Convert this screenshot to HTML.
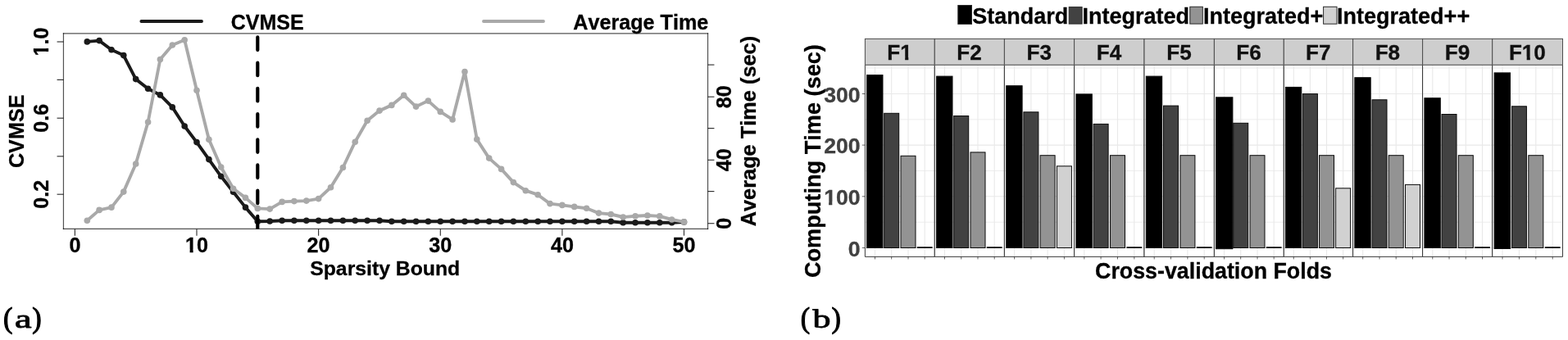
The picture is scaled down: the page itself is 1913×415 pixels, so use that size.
<!DOCTYPE html>
<html lang="en">
<head>
<meta charset="utf-8">
<title>Figure</title>
<style>html,body{margin:0;padding:0;background:#fff;}body{width:1913px;height:415px;overflow:hidden;}text{font-kerning:none;}.tl text{stroke:#000;stroke-width:0.3px;}.tr text{stroke-width:0.3px;}</style>
</head>
<body>
<svg width="1913" height="415" viewBox="0 0 1913 415" style="display:block">
<rect x="0" y="0" width="1913" height="415" fill="#ffffff"/>
<defs>
<clipPath id="lc"><rect x="77.45" y="40.8" width="786.0999999999999" height="238.64999999999998"/></clipPath>
</defs>
<g font-family='"Liberation Sans", sans-serif' font-weight="bold" font-size="25.2" fill="#000" class="tl">
<line x1="172.4" y1="26" x2="246" y2="26" stroke="#1a1a1a" stroke-width="3.9" stroke-linecap="round"/>
<text x="281.7" y="35.6" font-size="25">CVMSE</text>
<line x1="590" y1="26" x2="663" y2="26" stroke="#a9a9a9" stroke-width="3.9" stroke-linecap="round"/>
<text x="699.2" y="35.7">Average Time</text>
<g clip-path="url(#lc)">
<polyline points="106.3,50.9 121.1,49.6 136.0,60.8 150.8,67.6 165.7,96.6 180.6,108.2 195.4,115.9 210.3,130.9 225.2,154.0 240.0,173.6 254.9,194.6 269.7,215.3 284.6,234.3 299.5,253.1 314.3,270.2 329.2,270.0 344.1,269.3 358.9,269.3 373.8,269.3 388.6,269.3 403.5,269.3 418.4,269.3 433.2,269.3 448.1,269.3 463.0,269.3 477.8,270.3 492.7,270.3 507.5,270.3 522.4,270.3 537.3,270.3 552.1,270.3 567.0,270.3 581.8,270.3 596.7,270.3 611.6,270.3 626.4,270.3 641.3,270.3 656.2,270.3 671.0,270.3 685.9,270.3 700.7,270.3 715.6,270.3 730.5,270.3 745.3,270.3 760.2,271.7 775.1,271.7 789.9,271.7 804.8,271.7 819.6,271.7 834.5,271.0" fill="none" stroke="#1a1a1a" stroke-width="3.9" stroke-linejoin="round" stroke-linecap="round"/>
<circle cx="106.3" cy="50.9" r="3.8" fill="#1a1a1a"/>
<circle cx="121.1" cy="49.6" r="3.8" fill="#1a1a1a"/>
<circle cx="136.0" cy="60.8" r="3.8" fill="#1a1a1a"/>
<circle cx="150.8" cy="67.6" r="3.8" fill="#1a1a1a"/>
<circle cx="165.7" cy="96.6" r="3.8" fill="#1a1a1a"/>
<circle cx="180.6" cy="108.2" r="3.8" fill="#1a1a1a"/>
<circle cx="195.4" cy="115.9" r="3.8" fill="#1a1a1a"/>
<circle cx="210.3" cy="130.9" r="3.8" fill="#1a1a1a"/>
<circle cx="225.2" cy="154.0" r="3.8" fill="#1a1a1a"/>
<circle cx="240.0" cy="173.6" r="3.8" fill="#1a1a1a"/>
<circle cx="254.9" cy="194.6" r="3.8" fill="#1a1a1a"/>
<circle cx="269.7" cy="215.3" r="3.8" fill="#1a1a1a"/>
<circle cx="284.6" cy="234.3" r="3.8" fill="#1a1a1a"/>
<circle cx="299.5" cy="253.1" r="3.8" fill="#1a1a1a"/>
<circle cx="314.3" cy="270.2" r="3.8" fill="#1a1a1a"/>
<circle cx="329.2" cy="270.0" r="3.8" fill="#1a1a1a"/>
<circle cx="344.1" cy="269.3" r="3.8" fill="#1a1a1a"/>
<circle cx="358.9" cy="269.3" r="3.8" fill="#1a1a1a"/>
<circle cx="373.8" cy="269.3" r="3.8" fill="#1a1a1a"/>
<circle cx="388.6" cy="269.3" r="3.8" fill="#1a1a1a"/>
<circle cx="403.5" cy="269.3" r="3.8" fill="#1a1a1a"/>
<circle cx="418.4" cy="269.3" r="3.8" fill="#1a1a1a"/>
<circle cx="433.2" cy="269.3" r="3.8" fill="#1a1a1a"/>
<circle cx="448.1" cy="269.3" r="3.8" fill="#1a1a1a"/>
<circle cx="463.0" cy="269.3" r="3.8" fill="#1a1a1a"/>
<circle cx="477.8" cy="270.3" r="3.8" fill="#1a1a1a"/>
<circle cx="492.7" cy="270.3" r="3.8" fill="#1a1a1a"/>
<circle cx="507.5" cy="270.3" r="3.8" fill="#1a1a1a"/>
<circle cx="522.4" cy="270.3" r="3.8" fill="#1a1a1a"/>
<circle cx="537.3" cy="270.3" r="3.8" fill="#1a1a1a"/>
<circle cx="552.1" cy="270.3" r="3.8" fill="#1a1a1a"/>
<circle cx="567.0" cy="270.3" r="3.8" fill="#1a1a1a"/>
<circle cx="581.8" cy="270.3" r="3.8" fill="#1a1a1a"/>
<circle cx="596.7" cy="270.3" r="3.8" fill="#1a1a1a"/>
<circle cx="611.6" cy="270.3" r="3.8" fill="#1a1a1a"/>
<circle cx="626.4" cy="270.3" r="3.8" fill="#1a1a1a"/>
<circle cx="641.3" cy="270.3" r="3.8" fill="#1a1a1a"/>
<circle cx="656.2" cy="270.3" r="3.8" fill="#1a1a1a"/>
<circle cx="671.0" cy="270.3" r="3.8" fill="#1a1a1a"/>
<circle cx="685.9" cy="270.3" r="3.8" fill="#1a1a1a"/>
<circle cx="700.7" cy="270.3" r="3.8" fill="#1a1a1a"/>
<circle cx="715.6" cy="270.3" r="3.8" fill="#1a1a1a"/>
<circle cx="730.5" cy="270.3" r="3.8" fill="#1a1a1a"/>
<circle cx="745.3" cy="270.3" r="3.8" fill="#1a1a1a"/>
<circle cx="760.2" cy="271.7" r="3.8" fill="#1a1a1a"/>
<circle cx="775.1" cy="271.7" r="3.8" fill="#1a1a1a"/>
<circle cx="789.9" cy="271.7" r="3.8" fill="#1a1a1a"/>
<circle cx="804.8" cy="271.7" r="3.8" fill="#1a1a1a"/>
<circle cx="819.6" cy="271.7" r="3.8" fill="#1a1a1a"/>
<circle cx="834.5" cy="271.0" r="3.8" fill="#1a1a1a"/>
<polyline points="106.3,269.3 121.1,256.4 136.0,253.1 150.8,234.1 165.7,200.0 180.6,149.0 195.4,72.6 210.3,55.0 225.2,48.8 240.0,110.2 254.9,170.3 269.7,204.0 284.6,230.2 299.5,241.4 314.3,254.4 329.2,255.1 344.1,246.4 358.9,245.6 373.8,245.1 388.6,242.6 403.5,228.8 418.4,204.5 433.2,173.2 448.1,147.2 463.0,135.1 477.8,128.4 492.7,116.3 507.5,130.1 522.4,123.1 537.3,136.4 552.1,145.9 567.0,87.5 581.8,170.1 596.7,193.1 611.6,206.4 626.4,222.6 641.3,232.7 656.2,237.7 671.0,248.6 685.9,250.4 700.7,252.4 715.6,254.3 730.5,260.1 745.3,261.5 760.2,265.0 775.1,263.8 789.9,263.0 804.8,263.9 819.6,268.0 834.5,270.9" fill="none" stroke="#a9a9a9" stroke-width="3.9" stroke-linejoin="round" stroke-linecap="round"/>
<circle cx="106.3" cy="269.3" r="3.8" fill="#a9a9a9"/>
<circle cx="121.1" cy="256.4" r="3.8" fill="#a9a9a9"/>
<circle cx="136.0" cy="253.1" r="3.8" fill="#a9a9a9"/>
<circle cx="150.8" cy="234.1" r="3.8" fill="#a9a9a9"/>
<circle cx="165.7" cy="200.0" r="3.8" fill="#a9a9a9"/>
<circle cx="180.6" cy="149.0" r="3.8" fill="#a9a9a9"/>
<circle cx="195.4" cy="72.6" r="3.8" fill="#a9a9a9"/>
<circle cx="210.3" cy="55.0" r="3.8" fill="#a9a9a9"/>
<circle cx="225.2" cy="48.8" r="3.8" fill="#a9a9a9"/>
<circle cx="240.0" cy="110.2" r="3.8" fill="#a9a9a9"/>
<circle cx="254.9" cy="170.3" r="3.8" fill="#a9a9a9"/>
<circle cx="269.7" cy="204.0" r="3.8" fill="#a9a9a9"/>
<circle cx="284.6" cy="230.2" r="3.8" fill="#a9a9a9"/>
<circle cx="299.5" cy="241.4" r="3.8" fill="#a9a9a9"/>
<circle cx="314.3" cy="254.4" r="3.8" fill="#a9a9a9"/>
<circle cx="329.2" cy="255.1" r="3.8" fill="#a9a9a9"/>
<circle cx="344.1" cy="246.4" r="3.8" fill="#a9a9a9"/>
<circle cx="358.9" cy="245.6" r="3.8" fill="#a9a9a9"/>
<circle cx="373.8" cy="245.1" r="3.8" fill="#a9a9a9"/>
<circle cx="388.6" cy="242.6" r="3.8" fill="#a9a9a9"/>
<circle cx="403.5" cy="228.8" r="3.8" fill="#a9a9a9"/>
<circle cx="418.4" cy="204.5" r="3.8" fill="#a9a9a9"/>
<circle cx="433.2" cy="173.2" r="3.8" fill="#a9a9a9"/>
<circle cx="448.1" cy="147.2" r="3.8" fill="#a9a9a9"/>
<circle cx="463.0" cy="135.1" r="3.8" fill="#a9a9a9"/>
<circle cx="477.8" cy="128.4" r="3.8" fill="#a9a9a9"/>
<circle cx="492.7" cy="116.3" r="3.8" fill="#a9a9a9"/>
<circle cx="507.5" cy="130.1" r="3.8" fill="#a9a9a9"/>
<circle cx="522.4" cy="123.1" r="3.8" fill="#a9a9a9"/>
<circle cx="537.3" cy="136.4" r="3.8" fill="#a9a9a9"/>
<circle cx="552.1" cy="145.9" r="3.8" fill="#a9a9a9"/>
<circle cx="567.0" cy="87.5" r="3.8" fill="#a9a9a9"/>
<circle cx="581.8" cy="170.1" r="3.8" fill="#a9a9a9"/>
<circle cx="596.7" cy="193.1" r="3.8" fill="#a9a9a9"/>
<circle cx="611.6" cy="206.4" r="3.8" fill="#a9a9a9"/>
<circle cx="626.4" cy="222.6" r="3.8" fill="#a9a9a9"/>
<circle cx="641.3" cy="232.7" r="3.8" fill="#a9a9a9"/>
<circle cx="656.2" cy="237.7" r="3.8" fill="#a9a9a9"/>
<circle cx="671.0" cy="248.6" r="3.8" fill="#a9a9a9"/>
<circle cx="685.9" cy="250.4" r="3.8" fill="#a9a9a9"/>
<circle cx="700.7" cy="252.4" r="3.8" fill="#a9a9a9"/>
<circle cx="715.6" cy="254.3" r="3.8" fill="#a9a9a9"/>
<circle cx="730.5" cy="260.1" r="3.8" fill="#a9a9a9"/>
<circle cx="745.3" cy="261.5" r="3.8" fill="#a9a9a9"/>
<circle cx="760.2" cy="265.0" r="3.8" fill="#a9a9a9"/>
<circle cx="775.1" cy="263.8" r="3.8" fill="#a9a9a9"/>
<circle cx="789.9" cy="263.0" r="3.8" fill="#a9a9a9"/>
<circle cx="804.8" cy="263.9" r="3.8" fill="#a9a9a9"/>
<circle cx="819.6" cy="268.0" r="3.8" fill="#a9a9a9"/>
<circle cx="834.5" cy="270.9" r="3.8" fill="#a9a9a9"/>
<line x1="314.3" y1="279.45" x2="314.3" y2="40.8" stroke="#000" stroke-width="4.2" stroke-dasharray="15.6 15.6" stroke-linecap="round"/>
</g>
<line x1="77.45" y1="40.8" x2="863.55" y2="40.8" stroke="#000" stroke-opacity="0.68" stroke-width="1.2" stroke-linecap="square"/>
<line x1="77.45" y1="279.45" x2="863.55" y2="279.45" stroke="#000" stroke-opacity="0.68" stroke-width="1.2" stroke-linecap="square"/>
<line x1="77.45" y1="40.8" x2="77.45" y2="279.45" stroke="#000" stroke-opacity="0.68" stroke-width="1.2" stroke-linecap="square"/>
<line x1="863.55" y1="40.8" x2="863.55" y2="279.45" stroke="#000" stroke-opacity="0.68" stroke-width="1.2" stroke-linecap="square"/>
<line x1="91.4" y1="279.45" x2="91.4" y2="287.65" stroke="#000" stroke-opacity="0.8" stroke-width="1.15"/>
<text x="91.4" y="307.6" text-anchor="middle">0</text>
<line x1="240.0" y1="279.45" x2="240.0" y2="287.65" stroke="#000" stroke-opacity="0.8" stroke-width="1.15"/>
<text x="240.0" y="307.6" text-anchor="middle" clip-path="url(#k1)">10</text>
<line x1="388.6" y1="279.45" x2="388.6" y2="287.65" stroke="#000" stroke-opacity="0.8" stroke-width="1.15"/>
<text x="388.6" y="307.6" text-anchor="middle">20</text>
<line x1="537.3" y1="279.45" x2="537.3" y2="287.65" stroke="#000" stroke-opacity="0.8" stroke-width="1.15"/>
<text x="537.3" y="307.6" text-anchor="middle">30</text>
<line x1="685.9" y1="279.45" x2="685.9" y2="287.65" stroke="#000" stroke-opacity="0.8" stroke-width="1.15"/>
<text x="685.9" y="307.6" text-anchor="middle">40</text>
<line x1="834.5" y1="279.45" x2="834.5" y2="287.65" stroke="#000" stroke-opacity="0.8" stroke-width="1.15"/>
<text x="834.5" y="307.6" text-anchor="middle">50</text>
<text x="469.7" y="336.4" text-anchor="middle" font-size="24.75">Sparsity Bound</text>
<line x1="69.55" y1="51.0" x2="77.45" y2="51.0" stroke="#000" stroke-opacity="0.8" stroke-width="1.15"/>
<line x1="69.55" y1="97.4" x2="77.45" y2="97.4" stroke="#000" stroke-opacity="0.8" stroke-width="1.15"/>
<line x1="69.55" y1="144.2" x2="77.45" y2="144.2" stroke="#000" stroke-opacity="0.8" stroke-width="1.15"/>
<line x1="69.55" y1="190.8" x2="77.45" y2="190.8" stroke="#000" stroke-opacity="0.8" stroke-width="1.15"/>
<line x1="69.55" y1="237.2" x2="77.45" y2="237.2" stroke="#000" stroke-opacity="0.8" stroke-width="1.15"/>
<g transform="translate(59,51.0) rotate(-90)"><text x="0" y="0" text-anchor="middle" clip-path="url(#k2)">1.0</text></g>
<g transform="translate(59,144.2) rotate(-90)"><text x="0" y="0" text-anchor="middle">0.6</text></g>
<g transform="translate(59,237.2) rotate(-90)"><text x="0" y="0" text-anchor="middle">0.2</text></g>
<text transform="translate(29.0,160.3) rotate(-90)" text-anchor="middle">CVMSE</text>
<line x1="863.55" y1="272.7" x2="871.4499999999999" y2="272.7" stroke="#000" stroke-opacity="0.8" stroke-width="1.15"/>
<line x1="863.55" y1="233.6" x2="871.4499999999999" y2="233.6" stroke="#000" stroke-opacity="0.8" stroke-width="1.15"/>
<line x1="863.55" y1="195.3" x2="871.4499999999999" y2="195.3" stroke="#000" stroke-opacity="0.8" stroke-width="1.15"/>
<line x1="863.55" y1="156.6" x2="871.4499999999999" y2="156.6" stroke="#000" stroke-opacity="0.8" stroke-width="1.15"/>
<line x1="863.55" y1="118.2" x2="871.4499999999999" y2="118.2" stroke="#000" stroke-opacity="0.8" stroke-width="1.15"/>
<line x1="863.55" y1="79.1" x2="871.4499999999999" y2="79.1" stroke="#000" stroke-opacity="0.8" stroke-width="1.15"/>
<text transform="translate(891.6,272.7) rotate(-90)" text-anchor="middle">0</text>
<text transform="translate(891.6,195.3) rotate(-90)" text-anchor="middle">40</text>
<text transform="translate(891.6,118.2) rotate(-90)" text-anchor="middle">80</text>
<text transform="translate(921.5,160.1) rotate(-90)" text-anchor="middle" font-size="25.35">Average Time (sec)</text>
</g>
<g font-family='"Liberation Sans", sans-serif' font-weight="bold" class="tr">
<text transform="translate(1000.9,196.6) rotate(-90)" text-anchor="middle" font-size="27.15" fill="#000" stroke="#000">Computing Time (sec)</text>
<rect x="1168.8" y="6.5" width="16.7" height="22.9" fill="#000000" stroke="#2a2a2a" stroke-width="1"/>
<text x="1186.3" y="29.0" font-size="27" fill="#000" stroke="#000" stroke-width="0.4">Standard</text>
<rect x="1304.2" y="8.6" width="15.9" height="20.5" fill="#424242" stroke="#2a2a2a" stroke-width="1"/>
<text x="1320.5" y="29.0" font-size="27" fill="#000" stroke="#000" stroke-width="0.4">Integrated</text>
<rect x="1451.8" y="8.3" width="15.5" height="20.8" fill="#939393" stroke="#2a2a2a" stroke-width="1"/>
<text x="1468.0" y="29.0" font-size="27" fill="#000" stroke="#000" stroke-width="0.4">Integrated+</text>
<rect x="1614.6" y="8.3" width="16.4" height="20.9" fill="#d1d1d1" stroke="#2a2a2a" stroke-width="1"/>
<text x="1631.1" y="29.0" font-size="27" fill="#000" stroke="#000" stroke-width="0.4">Integrated++</text>
<rect x="1055.4" y="79.4" width="84.9" height="234.0" fill="#fff"/>
<line x1="1055.4" y1="271.2" x2="1140.3" y2="271.2" stroke="#e9e9e9" stroke-width="0.8"/>
<line x1="1055.4" y1="208.5" x2="1140.3" y2="208.5" stroke="#e9e9e9" stroke-width="0.8"/>
<line x1="1055.4" y1="145.8" x2="1140.3" y2="145.8" stroke="#e9e9e9" stroke-width="0.8"/>
<line x1="1055.4" y1="83.1" x2="1140.3" y2="83.1" stroke="#e9e9e9" stroke-width="0.8"/>
<line x1="1055.4" y1="302.5" x2="1140.3" y2="302.5" stroke="#e9e9e9" stroke-width="1.1"/>
<line x1="1055.4" y1="239.8" x2="1140.3" y2="239.8" stroke="#e9e9e9" stroke-width="1.1"/>
<line x1="1055.4" y1="177.1" x2="1140.3" y2="177.1" stroke="#e9e9e9" stroke-width="1.1"/>
<line x1="1055.4" y1="114.5" x2="1140.3" y2="114.5" stroke="#e9e9e9" stroke-width="1.1"/>
<line x1="1067.5" y1="79.4" x2="1067.5" y2="313.4" stroke="#e9e9e9" stroke-width="1.1"/>
<line x1="1067.5" y1="313.4" x2="1067.5" y2="316.4" stroke="#4a4a4a" stroke-width="0.9"/>
<line x1="1087.7" y1="79.4" x2="1087.7" y2="313.4" stroke="#e9e9e9" stroke-width="1.1"/>
<line x1="1087.7" y1="313.4" x2="1087.7" y2="316.4" stroke="#4a4a4a" stroke-width="0.9"/>
<line x1="1108.0" y1="79.4" x2="1108.0" y2="313.4" stroke="#e9e9e9" stroke-width="1.1"/>
<line x1="1108.0" y1="313.4" x2="1108.0" y2="316.4" stroke="#4a4a4a" stroke-width="0.9"/>
<line x1="1128.2" y1="79.4" x2="1128.2" y2="313.4" stroke="#e9e9e9" stroke-width="1.1"/>
<line x1="1128.2" y1="313.4" x2="1128.2" y2="316.4" stroke="#4a4a4a" stroke-width="0.9"/>
<rect x="1057.6" y="91.6" width="19.4" height="210.9" fill="#000000" stroke="#0a0a0a" stroke-width="1"/>
<rect x="1078.7" y="138.3" width="18.0" height="164.2" fill="#424242" stroke="#0a0a0a" stroke-width="1"/>
<rect x="1099.0" y="190.3" width="18.0" height="112.2" fill="#939393" stroke="#0a0a0a" stroke-width="1"/>
<line x1="1118.8" y1="302.1" x2="1137.6" y2="302.1" stroke="#000" stroke-width="1.7"/>
<rect x="1055.4" y="47.4" width="84.9" height="32.0" fill="#cecece" stroke="#4d4d4d" stroke-width="1"/>
<text x="1097.6" y="72.8" text-anchor="middle" font-size="26.1" fill="#111" stroke="#111" clip-path="url(#k3)">F1</text>
<path d="M1055.4 79.4V313.4H1140.3V79.4" fill="none" stroke="#262626" stroke-width="0.9"/>
<line x1="1055.4" y1="79.4" x2="1140.3" y2="79.4" stroke="#6e6e6e" stroke-width="1.3"/>
<rect x="1140.3" y="79.4" width="85.1" height="234.0" fill="#fff"/>
<line x1="1140.3" y1="271.2" x2="1225.4" y2="271.2" stroke="#e9e9e9" stroke-width="0.8"/>
<line x1="1140.3" y1="208.5" x2="1225.4" y2="208.5" stroke="#e9e9e9" stroke-width="0.8"/>
<line x1="1140.3" y1="145.8" x2="1225.4" y2="145.8" stroke="#e9e9e9" stroke-width="0.8"/>
<line x1="1140.3" y1="83.1" x2="1225.4" y2="83.1" stroke="#e9e9e9" stroke-width="0.8"/>
<line x1="1140.3" y1="302.5" x2="1225.4" y2="302.5" stroke="#e9e9e9" stroke-width="1.1"/>
<line x1="1140.3" y1="239.8" x2="1225.4" y2="239.8" stroke="#e9e9e9" stroke-width="1.1"/>
<line x1="1140.3" y1="177.1" x2="1225.4" y2="177.1" stroke="#e9e9e9" stroke-width="1.1"/>
<line x1="1140.3" y1="114.5" x2="1225.4" y2="114.5" stroke="#e9e9e9" stroke-width="1.1"/>
<line x1="1152.5" y1="79.4" x2="1152.5" y2="313.4" stroke="#e9e9e9" stroke-width="1.1"/>
<line x1="1152.5" y1="313.4" x2="1152.5" y2="316.4" stroke="#4a4a4a" stroke-width="0.9"/>
<line x1="1172.7" y1="79.4" x2="1172.7" y2="313.4" stroke="#e9e9e9" stroke-width="1.1"/>
<line x1="1172.7" y1="313.4" x2="1172.7" y2="316.4" stroke="#4a4a4a" stroke-width="0.9"/>
<line x1="1193.0" y1="79.4" x2="1193.0" y2="313.4" stroke="#e9e9e9" stroke-width="1.1"/>
<line x1="1193.0" y1="313.4" x2="1193.0" y2="316.4" stroke="#4a4a4a" stroke-width="0.9"/>
<line x1="1213.2" y1="79.4" x2="1213.2" y2="313.4" stroke="#e9e9e9" stroke-width="1.1"/>
<line x1="1213.2" y1="313.4" x2="1213.2" y2="316.4" stroke="#4a4a4a" stroke-width="0.9"/>
<rect x="1142.6" y="93.1" width="19.4" height="209.4" fill="#000000" stroke="#0a0a0a" stroke-width="1"/>
<rect x="1163.7" y="141.5" width="18.0" height="161.0" fill="#424242" stroke="#0a0a0a" stroke-width="1"/>
<rect x="1184.0" y="185.9" width="18.0" height="116.6" fill="#939393" stroke="#0a0a0a" stroke-width="1"/>
<line x1="1203.8" y1="302.1" x2="1222.6" y2="302.1" stroke="#000" stroke-width="1.7"/>
<rect x="1140.3" y="47.4" width="85.1" height="32.0" fill="#cecece" stroke="#4d4d4d" stroke-width="1"/>
<text x="1182.6" y="72.8" text-anchor="middle" font-size="26.1" fill="#111" stroke="#111">F2</text>
<path d="M1140.3 79.4V313.4H1225.4V79.4" fill="none" stroke="#262626" stroke-width="0.9"/>
<line x1="1140.3" y1="79.4" x2="1225.4" y2="79.4" stroke="#6e6e6e" stroke-width="1.3"/>
<rect x="1225.4" y="79.4" width="85.2" height="234.0" fill="#fff"/>
<line x1="1225.4" y1="271.2" x2="1310.6" y2="271.2" stroke="#e9e9e9" stroke-width="0.8"/>
<line x1="1225.4" y1="208.5" x2="1310.6" y2="208.5" stroke="#e9e9e9" stroke-width="0.8"/>
<line x1="1225.4" y1="145.8" x2="1310.6" y2="145.8" stroke="#e9e9e9" stroke-width="0.8"/>
<line x1="1225.4" y1="83.1" x2="1310.6" y2="83.1" stroke="#e9e9e9" stroke-width="0.8"/>
<line x1="1225.4" y1="302.5" x2="1310.6" y2="302.5" stroke="#e9e9e9" stroke-width="1.1"/>
<line x1="1225.4" y1="239.8" x2="1310.6" y2="239.8" stroke="#e9e9e9" stroke-width="1.1"/>
<line x1="1225.4" y1="177.1" x2="1310.6" y2="177.1" stroke="#e9e9e9" stroke-width="1.1"/>
<line x1="1225.4" y1="114.5" x2="1310.6" y2="114.5" stroke="#e9e9e9" stroke-width="1.1"/>
<line x1="1237.6" y1="79.4" x2="1237.6" y2="313.4" stroke="#e9e9e9" stroke-width="1.1"/>
<line x1="1237.6" y1="313.4" x2="1237.6" y2="316.4" stroke="#4a4a4a" stroke-width="0.9"/>
<line x1="1257.9" y1="79.4" x2="1257.9" y2="313.4" stroke="#e9e9e9" stroke-width="1.1"/>
<line x1="1257.9" y1="313.4" x2="1257.9" y2="316.4" stroke="#4a4a4a" stroke-width="0.9"/>
<line x1="1278.1" y1="79.4" x2="1278.1" y2="313.4" stroke="#e9e9e9" stroke-width="1.1"/>
<line x1="1278.1" y1="313.4" x2="1278.1" y2="316.4" stroke="#4a4a4a" stroke-width="0.9"/>
<line x1="1298.4" y1="79.4" x2="1298.4" y2="313.4" stroke="#e9e9e9" stroke-width="1.1"/>
<line x1="1298.4" y1="313.4" x2="1298.4" y2="316.4" stroke="#4a4a4a" stroke-width="0.9"/>
<rect x="1227.7" y="104.7" width="19.4" height="197.8" fill="#000000" stroke="#0a0a0a" stroke-width="1"/>
<rect x="1248.9" y="136.8" width="18.0" height="165.7" fill="#424242" stroke="#0a0a0a" stroke-width="1"/>
<rect x="1269.1" y="189.7" width="18.0" height="112.8" fill="#939393" stroke="#0a0a0a" stroke-width="1"/>
<rect x="1289.4" y="202.8" width="18.0" height="99.7" fill="#d1d1d1" stroke="#0a0a0a" stroke-width="1"/>
<rect x="1225.4" y="47.4" width="85.2" height="32.0" fill="#cecece" stroke="#4d4d4d" stroke-width="1"/>
<text x="1267.8" y="72.8" text-anchor="middle" font-size="26.1" fill="#111" stroke="#111">F3</text>
<path d="M1225.4 79.4V313.4H1310.6V79.4" fill="none" stroke="#262626" stroke-width="0.9"/>
<line x1="1225.4" y1="79.4" x2="1310.6" y2="79.4" stroke="#6e6e6e" stroke-width="1.3"/>
<rect x="1310.6" y="79.4" width="85.4" height="234.0" fill="#fff"/>
<line x1="1310.6" y1="271.2" x2="1396.0" y2="271.2" stroke="#e9e9e9" stroke-width="0.8"/>
<line x1="1310.6" y1="208.5" x2="1396.0" y2="208.5" stroke="#e9e9e9" stroke-width="0.8"/>
<line x1="1310.6" y1="145.8" x2="1396.0" y2="145.8" stroke="#e9e9e9" stroke-width="0.8"/>
<line x1="1310.6" y1="83.1" x2="1396.0" y2="83.1" stroke="#e9e9e9" stroke-width="0.8"/>
<line x1="1310.6" y1="302.5" x2="1396.0" y2="302.5" stroke="#e9e9e9" stroke-width="1.1"/>
<line x1="1310.6" y1="239.8" x2="1396.0" y2="239.8" stroke="#e9e9e9" stroke-width="1.1"/>
<line x1="1310.6" y1="177.1" x2="1396.0" y2="177.1" stroke="#e9e9e9" stroke-width="1.1"/>
<line x1="1310.6" y1="114.5" x2="1396.0" y2="114.5" stroke="#e9e9e9" stroke-width="1.1"/>
<line x1="1322.8" y1="79.4" x2="1322.8" y2="313.4" stroke="#e9e9e9" stroke-width="1.1"/>
<line x1="1322.8" y1="313.4" x2="1322.8" y2="316.4" stroke="#4a4a4a" stroke-width="0.9"/>
<line x1="1343.1" y1="79.4" x2="1343.1" y2="313.4" stroke="#e9e9e9" stroke-width="1.1"/>
<line x1="1343.1" y1="313.4" x2="1343.1" y2="316.4" stroke="#4a4a4a" stroke-width="0.9"/>
<line x1="1363.5" y1="79.4" x2="1363.5" y2="313.4" stroke="#e9e9e9" stroke-width="1.1"/>
<line x1="1363.5" y1="313.4" x2="1363.5" y2="316.4" stroke="#4a4a4a" stroke-width="0.9"/>
<line x1="1383.8" y1="79.4" x2="1383.8" y2="313.4" stroke="#e9e9e9" stroke-width="1.1"/>
<line x1="1383.8" y1="313.4" x2="1383.8" y2="316.4" stroke="#4a4a4a" stroke-width="0.9"/>
<rect x="1312.9" y="114.9" width="19.4" height="187.6" fill="#000000" stroke="#0a0a0a" stroke-width="1"/>
<rect x="1334.1" y="151.4" width="18.0" height="151.1" fill="#424242" stroke="#0a0a0a" stroke-width="1"/>
<rect x="1354.5" y="189.7" width="18.0" height="112.8" fill="#939393" stroke="#0a0a0a" stroke-width="1"/>
<line x1="1374.4" y1="302.1" x2="1393.2" y2="302.1" stroke="#000" stroke-width="1.7"/>
<rect x="1310.6" y="47.4" width="85.4" height="32.0" fill="#cecece" stroke="#4d4d4d" stroke-width="1"/>
<text x="1353.1" y="72.8" text-anchor="middle" font-size="26.1" fill="#111" stroke="#111">F4</text>
<path d="M1310.6 79.4V313.4H1396.0V79.4" fill="none" stroke="#262626" stroke-width="0.9"/>
<line x1="1310.6" y1="79.4" x2="1396.0" y2="79.4" stroke="#6e6e6e" stroke-width="1.3"/>
<rect x="1396.0" y="79.4" width="85.4" height="234.0" fill="#fff"/>
<line x1="1396.0" y1="271.2" x2="1481.4" y2="271.2" stroke="#e9e9e9" stroke-width="0.8"/>
<line x1="1396.0" y1="208.5" x2="1481.4" y2="208.5" stroke="#e9e9e9" stroke-width="0.8"/>
<line x1="1396.0" y1="145.8" x2="1481.4" y2="145.8" stroke="#e9e9e9" stroke-width="0.8"/>
<line x1="1396.0" y1="83.1" x2="1481.4" y2="83.1" stroke="#e9e9e9" stroke-width="0.8"/>
<line x1="1396.0" y1="302.5" x2="1481.4" y2="302.5" stroke="#e9e9e9" stroke-width="1.1"/>
<line x1="1396.0" y1="239.8" x2="1481.4" y2="239.8" stroke="#e9e9e9" stroke-width="1.1"/>
<line x1="1396.0" y1="177.1" x2="1481.4" y2="177.1" stroke="#e9e9e9" stroke-width="1.1"/>
<line x1="1396.0" y1="114.5" x2="1481.4" y2="114.5" stroke="#e9e9e9" stroke-width="1.1"/>
<line x1="1408.2" y1="79.4" x2="1408.2" y2="313.4" stroke="#e9e9e9" stroke-width="1.1"/>
<line x1="1408.2" y1="313.4" x2="1408.2" y2="316.4" stroke="#4a4a4a" stroke-width="0.9"/>
<line x1="1428.5" y1="79.4" x2="1428.5" y2="313.4" stroke="#e9e9e9" stroke-width="1.1"/>
<line x1="1428.5" y1="313.4" x2="1428.5" y2="316.4" stroke="#4a4a4a" stroke-width="0.9"/>
<line x1="1448.9" y1="79.4" x2="1448.9" y2="313.4" stroke="#e9e9e9" stroke-width="1.1"/>
<line x1="1448.9" y1="313.4" x2="1448.9" y2="316.4" stroke="#4a4a4a" stroke-width="0.9"/>
<line x1="1469.2" y1="79.4" x2="1469.2" y2="313.4" stroke="#e9e9e9" stroke-width="1.1"/>
<line x1="1469.2" y1="313.4" x2="1469.2" y2="316.4" stroke="#4a4a4a" stroke-width="0.9"/>
<rect x="1398.3" y="93.1" width="19.4" height="209.4" fill="#000000" stroke="#0a0a0a" stroke-width="1"/>
<rect x="1419.5" y="129.1" width="18.0" height="173.4" fill="#424242" stroke="#0a0a0a" stroke-width="1"/>
<rect x="1439.9" y="189.7" width="18.0" height="112.8" fill="#939393" stroke="#0a0a0a" stroke-width="1"/>
<line x1="1459.8" y1="302.1" x2="1478.6" y2="302.1" stroke="#000" stroke-width="1.7"/>
<rect x="1396.0" y="47.4" width="85.4" height="32.0" fill="#cecece" stroke="#4d4d4d" stroke-width="1"/>
<text x="1438.5" y="72.8" text-anchor="middle" font-size="26.1" fill="#111" stroke="#111">F5</text>
<path d="M1396.0 79.4V313.4H1481.4V79.4" fill="none" stroke="#262626" stroke-width="0.9"/>
<line x1="1396.0" y1="79.4" x2="1481.4" y2="79.4" stroke="#6e6e6e" stroke-width="1.3"/>
<rect x="1481.4" y="79.4" width="84.9" height="234.0" fill="#fff"/>
<line x1="1481.4" y1="271.2" x2="1566.3" y2="271.2" stroke="#e9e9e9" stroke-width="0.8"/>
<line x1="1481.4" y1="208.5" x2="1566.3" y2="208.5" stroke="#e9e9e9" stroke-width="0.8"/>
<line x1="1481.4" y1="145.8" x2="1566.3" y2="145.8" stroke="#e9e9e9" stroke-width="0.8"/>
<line x1="1481.4" y1="83.1" x2="1566.3" y2="83.1" stroke="#e9e9e9" stroke-width="0.8"/>
<line x1="1481.4" y1="302.5" x2="1566.3" y2="302.5" stroke="#e9e9e9" stroke-width="1.1"/>
<line x1="1481.4" y1="239.8" x2="1566.3" y2="239.8" stroke="#e9e9e9" stroke-width="1.1"/>
<line x1="1481.4" y1="177.1" x2="1566.3" y2="177.1" stroke="#e9e9e9" stroke-width="1.1"/>
<line x1="1481.4" y1="114.5" x2="1566.3" y2="114.5" stroke="#e9e9e9" stroke-width="1.1"/>
<line x1="1493.5" y1="79.4" x2="1493.5" y2="313.4" stroke="#e9e9e9" stroke-width="1.1"/>
<line x1="1493.5" y1="313.4" x2="1493.5" y2="316.4" stroke="#4a4a4a" stroke-width="0.9"/>
<line x1="1513.7" y1="79.4" x2="1513.7" y2="313.4" stroke="#e9e9e9" stroke-width="1.1"/>
<line x1="1513.7" y1="313.4" x2="1513.7" y2="316.4" stroke="#4a4a4a" stroke-width="0.9"/>
<line x1="1534.0" y1="79.4" x2="1534.0" y2="313.4" stroke="#e9e9e9" stroke-width="1.1"/>
<line x1="1534.0" y1="313.4" x2="1534.0" y2="316.4" stroke="#4a4a4a" stroke-width="0.9"/>
<line x1="1554.2" y1="79.4" x2="1554.2" y2="313.4" stroke="#e9e9e9" stroke-width="1.1"/>
<line x1="1554.2" y1="313.4" x2="1554.2" y2="316.4" stroke="#4a4a4a" stroke-width="0.9"/>
<rect x="1483.5" y="118.8" width="20.4" height="184.9" fill="#000000" stroke="#0a0a0a" stroke-width="1"/>
<rect x="1504.7" y="150.3" width="18.0" height="152.2" fill="#424242" stroke="#0a0a0a" stroke-width="1"/>
<rect x="1525.0" y="189.7" width="18.0" height="112.8" fill="#939393" stroke="#0a0a0a" stroke-width="1"/>
<line x1="1544.8" y1="302.1" x2="1563.6" y2="302.1" stroke="#000" stroke-width="1.7"/>
<rect x="1481.4" y="47.4" width="84.9" height="32.0" fill="#cecece" stroke="#4d4d4d" stroke-width="1"/>
<text x="1523.6" y="72.8" text-anchor="middle" font-size="26.1" fill="#111" stroke="#111">F6</text>
<path d="M1481.4 79.4V313.4H1566.3V79.4" fill="none" stroke="#262626" stroke-width="0.9"/>
<line x1="1481.4" y1="79.4" x2="1566.3" y2="79.4" stroke="#6e6e6e" stroke-width="1.3"/>
<rect x="1566.3" y="79.4" width="84.3" height="234.0" fill="#fff"/>
<line x1="1566.3" y1="271.2" x2="1650.6" y2="271.2" stroke="#e9e9e9" stroke-width="0.8"/>
<line x1="1566.3" y1="208.5" x2="1650.6" y2="208.5" stroke="#e9e9e9" stroke-width="0.8"/>
<line x1="1566.3" y1="145.8" x2="1650.6" y2="145.8" stroke="#e9e9e9" stroke-width="0.8"/>
<line x1="1566.3" y1="83.1" x2="1650.6" y2="83.1" stroke="#e9e9e9" stroke-width="0.8"/>
<line x1="1566.3" y1="302.5" x2="1650.6" y2="302.5" stroke="#e9e9e9" stroke-width="1.1"/>
<line x1="1566.3" y1="239.8" x2="1650.6" y2="239.8" stroke="#e9e9e9" stroke-width="1.1"/>
<line x1="1566.3" y1="177.1" x2="1650.6" y2="177.1" stroke="#e9e9e9" stroke-width="1.1"/>
<line x1="1566.3" y1="114.5" x2="1650.6" y2="114.5" stroke="#e9e9e9" stroke-width="1.1"/>
<line x1="1578.3" y1="79.4" x2="1578.3" y2="313.4" stroke="#e9e9e9" stroke-width="1.1"/>
<line x1="1578.3" y1="313.4" x2="1578.3" y2="316.4" stroke="#4a4a4a" stroke-width="0.9"/>
<line x1="1598.4" y1="79.4" x2="1598.4" y2="313.4" stroke="#e9e9e9" stroke-width="1.1"/>
<line x1="1598.4" y1="313.4" x2="1598.4" y2="316.4" stroke="#4a4a4a" stroke-width="0.9"/>
<line x1="1618.5" y1="79.4" x2="1618.5" y2="313.4" stroke="#e9e9e9" stroke-width="1.1"/>
<line x1="1618.5" y1="313.4" x2="1618.5" y2="316.4" stroke="#4a4a4a" stroke-width="0.9"/>
<line x1="1638.6" y1="79.4" x2="1638.6" y2="313.4" stroke="#e9e9e9" stroke-width="1.1"/>
<line x1="1638.6" y1="313.4" x2="1638.6" y2="316.4" stroke="#4a4a4a" stroke-width="0.9"/>
<rect x="1568.4" y="106.4" width="19.4" height="196.1" fill="#000000" stroke="#0a0a0a" stroke-width="1"/>
<rect x="1589.4" y="114.6" width="18.0" height="187.9" fill="#424242" stroke="#0a0a0a" stroke-width="1"/>
<rect x="1609.5" y="189.7" width="18.0" height="112.8" fill="#939393" stroke="#0a0a0a" stroke-width="1"/>
<rect x="1629.6" y="229.8" width="18.0" height="72.7" fill="#d1d1d1" stroke="#0a0a0a" stroke-width="1"/>
<rect x="1566.3" y="47.4" width="84.3" height="32.0" fill="#cecece" stroke="#4d4d4d" stroke-width="1"/>
<text x="1608.2" y="72.8" text-anchor="middle" font-size="26.1" fill="#111" stroke="#111">F7</text>
<path d="M1566.3 79.4V313.4H1650.6V79.4" fill="none" stroke="#262626" stroke-width="0.9"/>
<line x1="1566.3" y1="79.4" x2="1650.6" y2="79.4" stroke="#6e6e6e" stroke-width="1.3"/>
<rect x="1650.6" y="79.4" width="85.0" height="234.0" fill="#fff"/>
<line x1="1650.6" y1="271.2" x2="1735.6" y2="271.2" stroke="#e9e9e9" stroke-width="0.8"/>
<line x1="1650.6" y1="208.5" x2="1735.6" y2="208.5" stroke="#e9e9e9" stroke-width="0.8"/>
<line x1="1650.6" y1="145.8" x2="1735.6" y2="145.8" stroke="#e9e9e9" stroke-width="0.8"/>
<line x1="1650.6" y1="83.1" x2="1735.6" y2="83.1" stroke="#e9e9e9" stroke-width="0.8"/>
<line x1="1650.6" y1="302.5" x2="1735.6" y2="302.5" stroke="#e9e9e9" stroke-width="1.1"/>
<line x1="1650.6" y1="239.8" x2="1735.6" y2="239.8" stroke="#e9e9e9" stroke-width="1.1"/>
<line x1="1650.6" y1="177.1" x2="1735.6" y2="177.1" stroke="#e9e9e9" stroke-width="1.1"/>
<line x1="1650.6" y1="114.5" x2="1735.6" y2="114.5" stroke="#e9e9e9" stroke-width="1.1"/>
<line x1="1662.7" y1="79.4" x2="1662.7" y2="313.4" stroke="#e9e9e9" stroke-width="1.1"/>
<line x1="1662.7" y1="313.4" x2="1662.7" y2="316.4" stroke="#4a4a4a" stroke-width="0.9"/>
<line x1="1683.0" y1="79.4" x2="1683.0" y2="313.4" stroke="#e9e9e9" stroke-width="1.1"/>
<line x1="1683.0" y1="313.4" x2="1683.0" y2="316.4" stroke="#4a4a4a" stroke-width="0.9"/>
<line x1="1703.2" y1="79.4" x2="1703.2" y2="313.4" stroke="#e9e9e9" stroke-width="1.1"/>
<line x1="1703.2" y1="313.4" x2="1703.2" y2="316.4" stroke="#4a4a4a" stroke-width="0.9"/>
<line x1="1723.5" y1="79.4" x2="1723.5" y2="313.4" stroke="#e9e9e9" stroke-width="1.1"/>
<line x1="1723.5" y1="313.4" x2="1723.5" y2="316.4" stroke="#4a4a4a" stroke-width="0.9"/>
<rect x="1652.8" y="94.7" width="19.4" height="207.8" fill="#000000" stroke="#0a0a0a" stroke-width="1"/>
<rect x="1674.0" y="121.8" width="18.0" height="180.7" fill="#424242" stroke="#0a0a0a" stroke-width="1"/>
<rect x="1694.2" y="189.7" width="18.0" height="112.8" fill="#939393" stroke="#0a0a0a" stroke-width="1"/>
<rect x="1714.5" y="225.4" width="18.0" height="77.1" fill="#d1d1d1" stroke="#0a0a0a" stroke-width="1"/>
<rect x="1650.6" y="47.4" width="85.0" height="32.0" fill="#cecece" stroke="#4d4d4d" stroke-width="1"/>
<text x="1692.9" y="72.8" text-anchor="middle" font-size="26.1" fill="#111" stroke="#111">F8</text>
<path d="M1650.6 79.4V313.4H1735.6V79.4" fill="none" stroke="#262626" stroke-width="0.9"/>
<line x1="1650.6" y1="79.4" x2="1735.6" y2="79.4" stroke="#6e6e6e" stroke-width="1.3"/>
<rect x="1735.6" y="79.4" width="85.1" height="234.0" fill="#fff"/>
<line x1="1735.6" y1="271.2" x2="1820.7" y2="271.2" stroke="#e9e9e9" stroke-width="0.8"/>
<line x1="1735.6" y1="208.5" x2="1820.7" y2="208.5" stroke="#e9e9e9" stroke-width="0.8"/>
<line x1="1735.6" y1="145.8" x2="1820.7" y2="145.8" stroke="#e9e9e9" stroke-width="0.8"/>
<line x1="1735.6" y1="83.1" x2="1820.7" y2="83.1" stroke="#e9e9e9" stroke-width="0.8"/>
<line x1="1735.6" y1="302.5" x2="1820.7" y2="302.5" stroke="#e9e9e9" stroke-width="1.1"/>
<line x1="1735.6" y1="239.8" x2="1820.7" y2="239.8" stroke="#e9e9e9" stroke-width="1.1"/>
<line x1="1735.6" y1="177.1" x2="1820.7" y2="177.1" stroke="#e9e9e9" stroke-width="1.1"/>
<line x1="1735.6" y1="114.5" x2="1820.7" y2="114.5" stroke="#e9e9e9" stroke-width="1.1"/>
<line x1="1747.8" y1="79.4" x2="1747.8" y2="313.4" stroke="#e9e9e9" stroke-width="1.1"/>
<line x1="1747.8" y1="313.4" x2="1747.8" y2="316.4" stroke="#4a4a4a" stroke-width="0.9"/>
<line x1="1768.0" y1="79.4" x2="1768.0" y2="313.4" stroke="#e9e9e9" stroke-width="1.1"/>
<line x1="1768.0" y1="313.4" x2="1768.0" y2="316.4" stroke="#4a4a4a" stroke-width="0.9"/>
<line x1="1788.3" y1="79.4" x2="1788.3" y2="313.4" stroke="#e9e9e9" stroke-width="1.1"/>
<line x1="1788.3" y1="313.4" x2="1788.3" y2="316.4" stroke="#4a4a4a" stroke-width="0.9"/>
<line x1="1808.5" y1="79.4" x2="1808.5" y2="313.4" stroke="#e9e9e9" stroke-width="1.1"/>
<line x1="1808.5" y1="313.4" x2="1808.5" y2="316.4" stroke="#4a4a4a" stroke-width="0.9"/>
<rect x="1737.9" y="119.7" width="19.4" height="182.8" fill="#000000" stroke="#0a0a0a" stroke-width="1"/>
<rect x="1759.0" y="139.5" width="18.0" height="163.0" fill="#424242" stroke="#0a0a0a" stroke-width="1"/>
<rect x="1779.3" y="189.7" width="18.0" height="112.8" fill="#939393" stroke="#0a0a0a" stroke-width="1"/>
<line x1="1799.1" y1="302.1" x2="1817.9" y2="302.1" stroke="#000" stroke-width="1.7"/>
<rect x="1735.6" y="47.4" width="85.1" height="32.0" fill="#cecece" stroke="#4d4d4d" stroke-width="1"/>
<text x="1778.0" y="72.8" text-anchor="middle" font-size="26.1" fill="#111" stroke="#111">F9</text>
<path d="M1735.6 79.4V313.4H1820.7V79.4" fill="none" stroke="#262626" stroke-width="0.9"/>
<line x1="1735.6" y1="79.4" x2="1820.7" y2="79.4" stroke="#6e6e6e" stroke-width="1.3"/>
<rect x="1820.7" y="79.4" width="85.8" height="234.0" fill="#fff"/>
<line x1="1820.7" y1="271.2" x2="1906.5" y2="271.2" stroke="#e9e9e9" stroke-width="0.8"/>
<line x1="1820.7" y1="208.5" x2="1906.5" y2="208.5" stroke="#e9e9e9" stroke-width="0.8"/>
<line x1="1820.7" y1="145.8" x2="1906.5" y2="145.8" stroke="#e9e9e9" stroke-width="0.8"/>
<line x1="1820.7" y1="83.1" x2="1906.5" y2="83.1" stroke="#e9e9e9" stroke-width="0.8"/>
<line x1="1820.7" y1="302.5" x2="1906.5" y2="302.5" stroke="#e9e9e9" stroke-width="1.1"/>
<line x1="1820.7" y1="239.8" x2="1906.5" y2="239.8" stroke="#e9e9e9" stroke-width="1.1"/>
<line x1="1820.7" y1="177.1" x2="1906.5" y2="177.1" stroke="#e9e9e9" stroke-width="1.1"/>
<line x1="1820.7" y1="114.5" x2="1906.5" y2="114.5" stroke="#e9e9e9" stroke-width="1.1"/>
<line x1="1833.0" y1="79.4" x2="1833.0" y2="313.4" stroke="#e9e9e9" stroke-width="1.1"/>
<line x1="1833.0" y1="313.4" x2="1833.0" y2="316.4" stroke="#4a4a4a" stroke-width="0.9"/>
<line x1="1853.4" y1="79.4" x2="1853.4" y2="313.4" stroke="#e9e9e9" stroke-width="1.1"/>
<line x1="1853.4" y1="313.4" x2="1853.4" y2="316.4" stroke="#4a4a4a" stroke-width="0.9"/>
<line x1="1873.8" y1="79.4" x2="1873.8" y2="313.4" stroke="#e9e9e9" stroke-width="1.1"/>
<line x1="1873.8" y1="313.4" x2="1873.8" y2="316.4" stroke="#4a4a4a" stroke-width="0.9"/>
<line x1="1894.2" y1="79.4" x2="1894.2" y2="313.4" stroke="#e9e9e9" stroke-width="1.1"/>
<line x1="1894.2" y1="313.4" x2="1894.2" y2="316.4" stroke="#4a4a4a" stroke-width="0.9"/>
<rect x="1823.1" y="88.9" width="19.4" height="214.6" fill="#000000" stroke="#0a0a0a" stroke-width="1"/>
<rect x="1844.4" y="129.8" width="18.0" height="172.7" fill="#424242" stroke="#0a0a0a" stroke-width="1"/>
<rect x="1864.8" y="189.7" width="18.0" height="112.8" fill="#939393" stroke="#0a0a0a" stroke-width="1"/>
<line x1="1884.8" y1="302.1" x2="1903.6" y2="302.1" stroke="#000" stroke-width="1.7"/>
<rect x="1820.7" y="47.4" width="85.8" height="32.0" fill="#cecece" stroke="#4d4d4d" stroke-width="1"/>
<text x="1863.4" y="72.8" text-anchor="middle" font-size="26.1" fill="#111" stroke="#111" clip-path="url(#k4)">F10</text>
<path d="M1820.7 79.4V313.4H1906.5V79.4" fill="none" stroke="#262626" stroke-width="0.9"/>
<line x1="1820.7" y1="79.4" x2="1906.5" y2="79.4" stroke="#6e6e6e" stroke-width="1.3"/>
<line x1="1051.8000000000002" y1="302.5" x2="1055.4" y2="302.5" stroke="#555" stroke-width="0.9"/>
<text x="1049.7" y="312.5" text-anchor="end" font-size="26.7" fill="#414141" stroke="#414141">0</text>
<line x1="1051.8000000000002" y1="239.8" x2="1055.4" y2="239.8" stroke="#555" stroke-width="0.9"/>
<text x="1049.7" y="249.8" text-anchor="end" font-size="26.7" fill="#414141" stroke="#414141" clip-path="url(#k5)">100</text>
<line x1="1051.8000000000002" y1="177.1" x2="1055.4" y2="177.1" stroke="#555" stroke-width="0.9"/>
<text x="1049.7" y="187.1" text-anchor="end" font-size="26.7" fill="#414141" stroke="#414141">200</text>
<line x1="1051.8000000000002" y1="114.5" x2="1055.4" y2="114.5" stroke="#555" stroke-width="0.9"/>
<text x="1049.7" y="124.5" text-anchor="end" font-size="26.7" fill="#414141" stroke="#414141">300</text>
<text x="1480.5" y="339.7" text-anchor="middle" font-size="26.8" fill="#000" stroke="#000">Cross-validation Folds</text>
</g>
<text font-family='"Liberation Serif", serif' fill="#000" stroke="#000" stroke-width="0.85" font-size="35" stroke-linejoin="round"><tspan x="4.0" y="400.0" textLength="11.4" lengthAdjust="spacingAndGlyphs" stroke-width="1.1">(</tspan><tspan x="18.0" y="400" font-size="31.4" textLength="20.6" lengthAdjust="spacingAndGlyphs">a</tspan><tspan x="39.3" y="400.0" textLength="11.4" lengthAdjust="spacingAndGlyphs" stroke-width="1.1">)</tspan></text>
<text font-family='"Liberation Serif", serif' fill="#000" stroke="#000" stroke-width="0.85" font-size="35" stroke-linejoin="round"><tspan x="976.8" y="400.0" textLength="11.4" lengthAdjust="spacingAndGlyphs" stroke-width="1.1">(</tspan><tspan x="991.4" y="400" font-size="32.0" textLength="22.0" lengthAdjust="spacingAndGlyphs">b</tspan><tspan x="1014.6" y="400.0" textLength="11.4" lengthAdjust="spacingAndGlyphs" stroke-width="1.1">)</tspan></text>
<defs><clipPath id="k1"><path clip-rule="evenodd" d="M120.0 247.6H360.0V337.6H120.0ZM226.59 304.43H231.64V310.10H226.59ZM235.59 304.43H240.32V310.10H235.59Z"/></clipPath><clipPath id="k2"><path clip-rule="evenodd" d="M-120.0 -60.0H120.0V30.0H-120.0ZM-16.93 -3.17H-11.88V2.50H-16.93ZM-7.93 -3.17H-3.20V2.50H-7.93Z"/></clipPath><clipPath id="k3"><path clip-rule="evenodd" d="M977.6 12.8H1217.6V102.8H977.6ZM1099.01 69.54H1104.21V75.30H1099.01ZM1108.29 69.54H1113.15V75.30H1108.29Z"/></clipPath><clipPath id="k4"><path clip-rule="evenodd" d="M1743.4 12.8H1983.4V102.8H1743.4ZM1857.50 69.54H1862.70V75.30H1857.50ZM1866.78 69.54H1871.65V75.30H1866.78Z"/></clipPath><clipPath id="k5"><path clip-rule="evenodd" d="M929.7 189.8H1169.7V279.8H929.7ZM1005.83 246.50H1011.13V252.32H1005.83ZM1015.30 246.50H1020.26V252.32H1015.30Z"/></clipPath></defs>
</svg>
</body>
</html>
